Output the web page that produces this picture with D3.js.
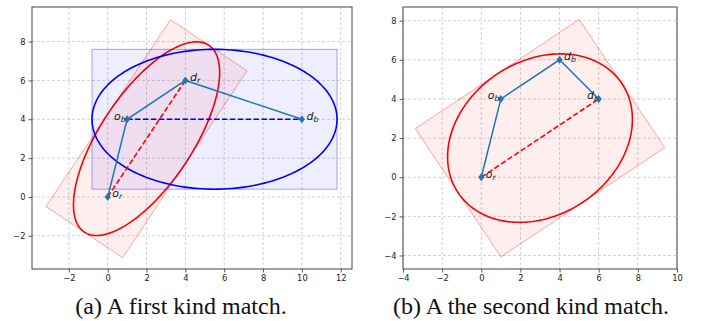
<!DOCTYPE html>
<html>
<head>
<meta charset="utf-8">
<script src="https://cdn.jsdelivr.net/npm/d3@7/dist/d3.min.js"></script>
<style>
  body { margin: 0; background: #fff; }
</style>
</head>
<body>
<div id="graphContainer"></div>
<script>
"use strict";

// ---- panel (a) data ----
const pointsA = [
    { name: "o", sub: "r", x: 0, y: 0 },
    { name: "o", sub: "b", x: 1, y: 4 },
    { name: "d", sub: "r", x: 4, y: 6 },
    { name: "d", sub: "b", x: 10, y: 4 }
];
const pathOrderA = [0, 1, 2, 3];          // o_r -> o_b -> d_r -> d_b
const labelSideA = ["right", "left", "right", "right"];
// ellipses: [from index, to index, semi-major, semi-minor, colour]
const ellipsesA = [
    [0, 2, 5.78, 2.37, "red"],
    [1, 3, 6.31, 3.60, "blue"]
];
const xDomainA = [-3.9, 12.58];
const yDomainA = [-3.71, 9.78];
const xTicksA = [-2, 0, 2, 4, 6, 8, 10, 12];
const yTicksA = [-2, 0, 2, 4, 6, 8];
const captionA = "(a) A first kind match.";

// ---- panel (b) data ----
const pointsB = [
    { name: "o", sub: "r", x: 0, y: 0 },
    { name: "o", sub: "b", x: 1, y: 4 },
    { name: "d", sub: "b", x: 4, y: 6 },
    { name: "d", sub: "r", x: 6, y: 4 }
];
const pathOrderB = [0, 1, 2, 3];          // o_r -> o_b -> d_b -> d_r
const labelSideB = ["right", "left", "right", "left"];
const ellipsesB = [
    [0, 3, 5.03, 3.94, "red"]
];
const xDomainB = [-4, 10];
const yDomainB = [-4.69, 8.70];
const xTicksB = [-4, -2, 0, 2, 4, 6, 8, 10];
const yTicksB = [-4, -2, 0, 2, 4, 6, 8];
const captionB = "(b) A the second kind match.";

const svg = d3.select("#graphContainer").append("svg")
    .attr("width", 701)
    .attr("height", 321)
    .style("display", "block");

svg.append("rect").attr("width", 701).attr("height", 321).attr("fill", "#fff");

DrawPanel({ left: 32, top: 7, width: 320, height: 262, captionX: 181 },
    pointsA, pathOrderA, labelSideA, ellipsesA, xDomainA, yDomainA, xTicksA, yTicksA, captionA);
DrawPanel({ left: 403, top: 7, width: 274, height: 262, captionX: 531 },
    pointsB, pathOrderB, labelSideB, ellipsesB, xDomainB, yDomainB, xTicksB, yTicksB, captionB);

function DrawPanel(box, points, pathOrder, labelSide, ellipses, xDomain, yDomain, xTicks, yTicks, caption) {
    const xScale = d3.scaleLinear().domain(xDomain).range([box.left, box.left + box.width]);
    const yScale = d3.scaleLinear().domain(yDomain).range([box.top + box.height, box.top]);

    const g = svg.append("g");

    // clip everything to the axes area
    const clipId = "clip" + box.left;
    g.append("clipPath").attr("id", clipId)
        .append("rect")
        .attr("x", box.left).attr("y", box.top)
        .attr("width", box.width).attr("height", box.height);

    // grid
    const grid = g.append("g")
        .attr("stroke", "#c8c8c8")
        .attr("stroke-width", 0.8)
        .attr("stroke-dasharray", "3,2");
    grid.selectAll(".gx").data(xTicks).join("line")
        .attr("x1", d => xScale(d)).attr("x2", d => xScale(d))
        .attr("y1", box.top).attr("y2", box.top + box.height);
    grid.selectAll(".gy").data(yTicks).join("line")
        .attr("y1", d => yScale(d)).attr("y2", d => yScale(d))
        .attr("x1", box.left).attr("x2", box.left + box.width);

    const plot = g.append("g").attr("clip-path", `url(#${clipId})`);

    // bounding rectangles + ellipses
    ellipses.forEach(e => {
        const p0 = points[e[0]], p1 = points[e[1]];
        const cx = (p0.x + p1.x) / 2, cy = (p0.y + p1.y) / 2;
        const theta = Math.atan2(p1.y - p0.y, p1.x - p0.x);
        const a = e[2], b = e[3];
        const rot = (u, v) => [cx + u * Math.cos(theta) - v * Math.sin(theta),
                               cy + u * Math.sin(theta) + v * Math.cos(theta)];
        const corners = [rot(a, b), rot(-a, b), rot(-a, -b), rot(a, -b)];

        plot.append("path")
            .attr("d", "M" + corners.map(c => [xScale(c[0]), yScale(c[1])].join(",")).join("L") + "Z")
            .attr("fill", e[4])
            .attr("fill-opacity", 0.065)
            .attr("stroke", e[4])
            .attr("stroke-opacity", 0.35)
            .attr("stroke-width", 1);

        const ring = d3.range(0, 361, 2).map(t => rot(a * Math.cos(t * Math.PI / 180), b * Math.sin(t * Math.PI / 180)));
        plot.append("path")
            .attr("d", d3.line().x(d => xScale(d[0])).y(d => yScale(d[1]))(ring))
            .attr("fill", "none")
            .attr("stroke", e[4])
            .attr("stroke-width", 1.6);
    });

    // dashed segments between each origin and destination
    ellipses.forEach(e => {
        const p0 = points[e[0]], p1 = points[e[1]];
        plot.append("line")
            .attr("x1", xScale(p0.x)).attr("y1", yScale(p0.y))
            .attr("x2", xScale(p1.x)).attr("y2", yScale(p1.y))
            .attr("stroke", e[4])
            .attr("stroke-width", 1.6)
            .attr("stroke-dasharray", "5.5,2.4");
    });

    // route
    const route = pathOrder.map(i => points[i]);
    plot.append("path")
        .datum(route)
        .attr("d", d3.line().x(d => xScale(d.x)).y(d => yScale(d.y)))
        .attr("fill", "none")
        .attr("stroke", "#1f77b4")
        .attr("stroke-width", 1.5);

    // diamond markers
    plot.append("g").selectAll("path").data(points).join("path")
        .attr("d", "M0,-4L3.1,0L0,4L-3.1,0Z")
        .attr("transform", d => `translate(${xScale(d.x)},${yScale(d.y)})`)
        .attr("fill", "#1f77b4");

    // point labels
    const label = plot.append("g").selectAll("text").data(points).join("text")
        .attr("font-family", "DejaVu Sans")
        .attr("font-style", "italic")
        .attr("font-size", 11)
        .attr("fill", "#222")
        .attr("x", (d, i) => xScale(d.x) + (labelSide[i] === "right" ? 4.5 : -1.5))
        .attr("y", d => yScale(d.y) + 0.5)
        .attr("text-anchor", (d, i) => labelSide[i] === "right" ? "start" : "end");
    label.append("tspan").text(d => d.name);
    label.append("tspan")
        .attr("font-size", 7.8)
        .attr("dy", 2)
        .text(d => d.sub);

    // frame
    g.append("rect")
        .attr("x", box.left).attr("y", box.top)
        .attr("width", box.width).attr("height", box.height)
        .attr("fill", "none")
        .attr("stroke", "#444")
        .attr("stroke-width", 1);

    // axes
    g.append("g")
        .attr("transform", `translate(0,${box.top + box.height})`)
        .call(d3.axisBottom(xScale).tickValues(xTicks).tickSize(3.5).tickPadding(3)
            .tickFormat(d => d < 0 ? "\u2212" + Math.abs(d) : d))
        .call(a => a.select(".domain").remove())
        .call(a => a.selectAll("line").attr("stroke", "#333").attr("stroke-width", 0.8))
        .call(a => a.selectAll("text").attr("font-family", "DejaVu Sans").attr("font-size", 8.3).attr("fill", "#222"));

    g.append("g")
        .attr("transform", `translate(${box.left},0)`)
        .call(d3.axisLeft(yScale).tickValues(yTicks).tickSize(3.5).tickPadding(3)
            .tickFormat(d => d < 0 ? "\u2212" + Math.abs(d) : d))
        .call(a => a.select(".domain").remove())
        .call(a => a.selectAll("line").attr("stroke", "#333").attr("stroke-width", 0.8))
        .call(a => a.selectAll("text").attr("font-family", "DejaVu Sans").attr("font-size", 8.3).attr("fill", "#222"));

    // caption
    svg.append("text")
        .attr("x", box.captionX)
        .attr("y", 314)
        .attr("text-anchor", "middle")
        .attr("font-family", "Liberation Serif")
        .attr("font-size", 24)
        .attr("fill", "#111")
        .text(caption);
}
</script>
</body>
</html>
